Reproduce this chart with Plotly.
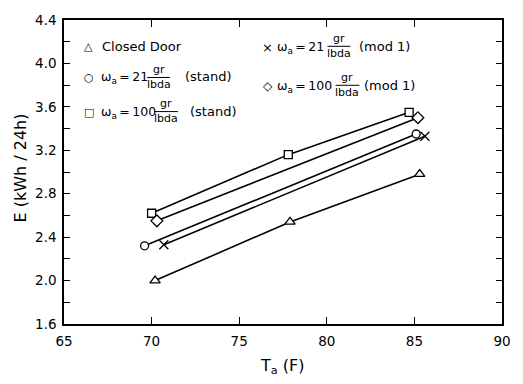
import plotly.graph_objects as go

# ---- data ----
x_closed = [70.2, 77.9, 85.3]
e_closed = [2.00, 2.54, 2.98]
x_21_stand = [69.6, 85.1]
e_21_stand = [2.32, 3.35]
x_100_stand = [70.0, 77.8, 84.7]
e_100_stand = [2.62, 3.16, 3.55]
x_21_mod = [70.7, 85.6]
e_21_mod = [2.33, 3.33]
x_100_mod = [70.3, 85.2]
e_100_mod = [2.55, 3.50]

x_ticks = [65, 70, 75, 80, 85, 90]
y_ticks = [1.6, 2.0, 2.4, 2.8, 3.2, 3.6, 4.0, 4.4]

W, H = 523, 384
L, R, T, B = 64, 17, 12, 60
PW, PH = W - L - R, H - T - B
FONT = "DejaVu Sans"


def P(px, py):
    return dict(x=(px - L) / PW, y=(H - B - py) / PH, xref="paper", yref="paper")


series = [
    (x_closed, e_closed, "triangle-up", 9, "Closed Door"),
    (x_21_stand, e_21_stand, "circle", 8, "21 stand"),
    (x_100_stand, e_100_stand, "square", 8, "100 stand"),
    (x_21_mod, e_21_mod, "x-thin", 9, "21 mod 1"),
    (x_100_mod, e_100_mod, "diamond", 9, "100 mod 1"),
]

fig = go.Figure()
for xs, ys, sym, sz, name in series:
    fig.add_trace(go.Scatter(
        x=xs, y=ys, mode="lines+markers", name=name,
        line=dict(color="black", width=1.6),
        marker=dict(symbol=sym, size=sz, color="white",
                    line=dict(color="black", width=1.3)),
        showlegend=False,
    ))

ann = []
shapes = []


def text(px, py, s, size=13, xanchor="left"):
    d = P(px, py)
    d.update(text=s, showarrow=False, xanchor=xanchor, yanchor="middle",
             font=dict(family=FONT, size=size, color="black"))
    ann.append(d)


def frac(x0, x1, yline):
    cx = (x0 + x1) / 2
    text(cx, yline - 8, "gr", 11, "center")
    text(cx, yline + 7, "lbda", 11, "center")
    a = P(x0, yline)
    b = P(x1, yline)
    shapes.append(dict(type="line", xref="paper", yref="paper",
                       x0=a["x"], y0=a["y"], x1=b["x"], y1=b["y"],
                       line=dict(color="black", width=1)))


OM21 = "ω<sub>a</sub>\u2009=\u200921"
OM100 = "ω<sub>a</sub>\u2009=\u2009100"

# legend block
text(89, 39, "△", 11, "center")
text(100, 39, "Closed Door")

text(89, 71, "○", 11, "center")
text(99, 71, OM21, 12.5)
frac(148, 171, 71)
text(184, 70, "(stand)")

text(89, 107, "□", 11, "center")
text(99, 107, OM100, 12.5)
frac(155, 179, 106)
text(189, 106, "(stand)")

text(269, 40, "×", 13, "center")
text(277, 40, OM21, 12.5)
frac(330, 353, 39)
text(360, 39, "(mod 1)")

text(270, 80, "◇", 12, "center")
text(277, 80, OM100, 12.5)
frac(338, 362, 79)
text(365, 79, "(mod 1)")

# axis titles
d = P(20, 164)
d.update(text="E (kWh / 24h)", showarrow=False, textangle=-90,
         xanchor="center", yanchor="middle",
         font=dict(family=FONT, size=16, color="black"))
ann.append(d)
d = P(284, 368)
d.update(text="T<sub>a</sub> (F)", showarrow=False, xanchor="center",
         yanchor="middle", font=dict(family=FONT, size=16, color="black"))
ann.append(d)

axis_common = dict(
    showgrid=False, zeroline=False, showline=True, linecolor="black",
    linewidth=1.5, mirror="ticks", ticks="inside", tickcolor="black",
    tickwidth=1.3, tickfont=dict(family=FONT, size=13.5, color="black"),
)

fig.update_layout(
    width=W, height=H,
    margin=dict(l=L, r=R, t=T, b=B),
    paper_bgcolor="white", plot_bgcolor="white",
    xaxis=dict(range=[65, 90], tickvals=x_ticks, ticklen=7,
               ticklabelstandoff=4, **axis_common),
    yaxis=dict(range=[1.6, 4.4], tickvals=y_ticks, ticklen=6,
               tickformat=".1f", ticklabelstandoff=3,
               minor=dict(dtick=0.2, ticks="inside", ticklen=6,
                          tickcolor="black", tickwidth=1.3, showgrid=False),
               **axis_common),
    annotations=ann,
    shapes=shapes,
)

fig.write_html("out.html")
